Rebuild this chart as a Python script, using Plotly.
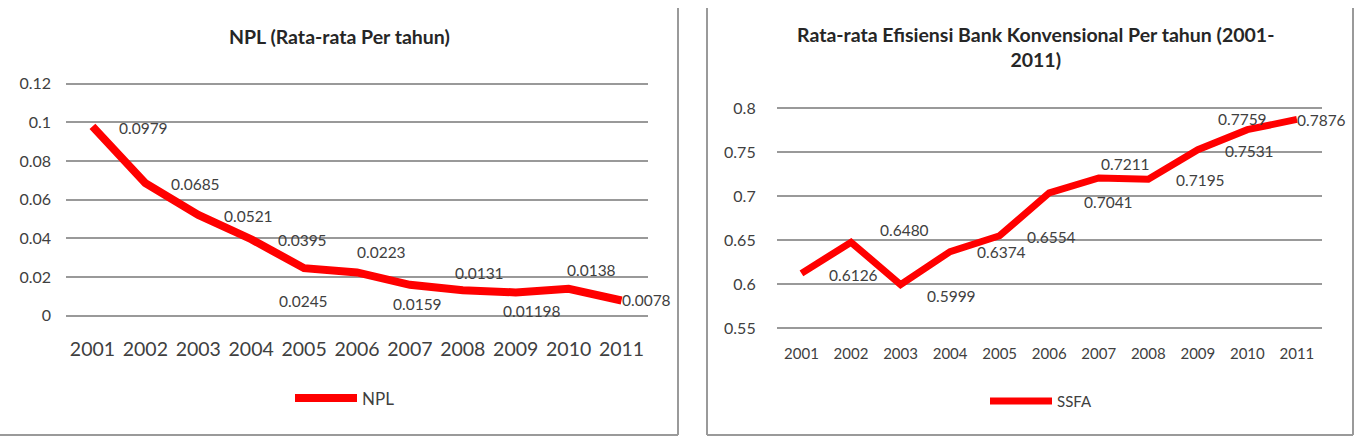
import plotly.graph_objects as go

W, H = 1363, 444

# ---- data ----
years = [2001, 2002, 2003, 2004, 2005, 2006, 2007, 2008, 2009, 2010, 2011]
year_labels = ["2001", "2002", "2003", "2004", "2005", "2006", "2007", "2008", "2009", "2010", "2011"]
npl_values = [0.0979, 0.0685, 0.0521, 0.0395, 0.0245, 0.0223, 0.0159, 0.0131, 0.01198, 0.0138, 0.0078]
ssfa_values = [0.6126, 0.6480, 0.5999, 0.6374, 0.6554, 0.7041, 0.7211, 0.7195, 0.7531, 0.7759, 0.7876]

npl_title = "NPL (Rata-rata Per tahun)"
ssfa_title = "Rata-rata Efisiensi Bank Konvensional Per tahun (2001-<br>2011)"

npl_axis = (0.0, 0.12, 0.02)
ssfa_axis = (0.55, 0.8, 0.05)

# ---- label placement (pixel offsets: right, down) ----
npl_dx = [51, 50, 50, 51, -1, 24, 8, 17, 16, 23, 25]
npl_dy = [2, 1, 1, 1, 33, -20, 19, -17, 19, -19, 0]
ssfa_dx = [52, 53, 51, 51, 52, 59, 27, 52, 52, -5, 25]
ssfa_dy = [2, -12, 11, 0, 1, 9, -14, 1, 1, -11, 1]

FONT = "Lato, 'Open Sans', sans-serif"
RED = "#ff0000"
GRID = "#999999"
TXT = "#404040"


def px(x):
    return x / W


def py(y):
    return 1 - y / H


def padded(lo, hi, top_px, bottom_px, pad_px=2.0):
    """Extend the axis range by a few pixels so the edge gridlines are drawn."""
    per_px = (hi - lo) / (bottom_px - top_px)
    rng = [lo - pad_px * per_px, hi + pad_px * per_px]
    dom = [py(bottom_px + pad_px), py(top_px - pad_px)]
    return rng, dom


npl_range, npl_dom = padded(npl_axis[0], npl_axis[1], 78.3, 318.3)
ssfa_range, ssfa_dom = padded(ssfa_axis[0], ssfa_axis[1], 104.0, 331.7)

fig = go.Figure()

fig.add_trace(go.Scatter(
    x=years, y=npl_values, mode="lines", name="NPL", showlegend=True,
    line=dict(color=RED, width=8), xaxis="x", yaxis="y", legend="legend",
))
fig.add_trace(go.Scatter(
    x=years, y=ssfa_values, mode="lines", name="SSFA", showlegend=True,
    line=dict(color=RED, width=7), xaxis="x2", yaxis="y2", legend="legend2",
))

annotations = []
for yr, v, dx, dy in zip(years, npl_values, npl_dx, npl_dy):
    annotations.append(dict(
        x=yr, y=v, xref="x", yref="y", text=str(v), showarrow=False,
        xshift=dx, yshift=-dy, font=dict(family=FONT, size=15.5, color=TXT),
    ))
for yr, v, dx, dy in zip(years, ssfa_values, ssfa_dx, ssfa_dy):
    annotations.append(dict(
        x=yr, y=v, xref="x2", yref="y2", text=f"{v:.4f}", showarrow=False,
        xshift=dx, yshift=-dy, font=dict(family=FONT, size=15.5, color=TXT),
    ))

annotations.append(dict(
    x=px(339), y=py(29), xref="paper", yref="paper", text=f"<b>{npl_title}</b>",
    showarrow=False, xanchor="center", yanchor="middle",
    font=dict(family=FONT, size=19.5, color="#262626"),
))
annotations.append(dict(
    x=px(1035), y=py(40.5), xref="paper", yref="paper", text=f"<b>{ssfa_title}</b>",
    showarrow=False, xanchor="center", yanchor="middle",
    font=dict(family=FONT, size=19.5, color="#262626"),
))

border = dict(color="#9a9a9a", width=2)
shapes = [
    dict(type="line", xref="paper", yref="paper", x0=px(678), x1=px(678), y0=py(442), y1=1.0, line=border),
    dict(type="line", xref="paper", yref="paper", x0=0, x1=px(678), y0=py(442), y1=py(442), line=border),
    dict(type="line", xref="paper", yref="paper", x0=px(707), x1=px(707), y0=py(442), y1=1.0, line=border),
    dict(type="line", xref="paper", yref="paper", x0=px(1353), x1=px(1353), y0=py(442), y1=1.0, line=border),
    dict(type="line", xref="paper", yref="paper", x0=px(707), x1=px(1353), y0=py(442), y1=py(442), line=border),
]

fig.update_layout(
    width=W, height=H,
    margin=dict(l=0, r=0, t=0, b=0),
    paper_bgcolor="white", plot_bgcolor="white",
    showlegend=True,
    font=dict(family=FONT, color=TXT),
    xaxis=dict(
        domain=[px(66), px(648)], range=[2000.5, 2011.5], tickvals=years, ticktext=year_labels,
        showgrid=False, zeroline=False, showline=False, ticks="",
        tickfont=dict(family=FONT, size=19.5, color=TXT), ticklabelstandoff=18, anchor="y",
    ),
    yaxis=dict(
        domain=npl_dom, range=npl_range, dtick=npl_axis[2], tick0=npl_axis[0],
        showgrid=True, gridcolor=GRID, gridwidth=2, zeroline=False, showline=False,
        ticks="", tickfont=dict(family=FONT, size=16, color=TXT), ticklabelstandoff=14,
        anchor="x",
    ),
    xaxis2=dict(
        domain=[px(776.7), px(1321.7)], range=[2000.5, 2011.5], tickvals=years, ticktext=year_labels,
        showgrid=False, zeroline=False, showline=False, ticks="",
        tickfont=dict(family=FONT, size=15, color=TXT), ticklabelstandoff=13, anchor="y2",
    ),
    yaxis2=dict(
        domain=ssfa_dom, range=ssfa_range, dtick=ssfa_axis[2], tick0=ssfa_axis[0],
        showgrid=True, gridcolor=GRID, gridwidth=2, zeroline=False, showline=False,
        ticks="", tickfont=dict(family=FONT, size=16, color=TXT), ticklabelstandoff=20,
        anchor="x2",
    ),
    legend=dict(
        x=px(290), y=py(404), xanchor="left", yanchor="middle", orientation="h",
        itemwidth=62, font=dict(family=FONT, size=17, color=TXT), bgcolor="rgba(0,0,0,0)",
    ),
    legend2=dict(
        x=px(985), y=py(407), xanchor="left", yanchor="middle", orientation="h",
        itemwidth=62, font=dict(family=FONT, size=15, color=TXT), bgcolor="rgba(0,0,0,0)",
    ),
    annotations=annotations,
    shapes=shapes,
)

fig.write_html("out.html")
